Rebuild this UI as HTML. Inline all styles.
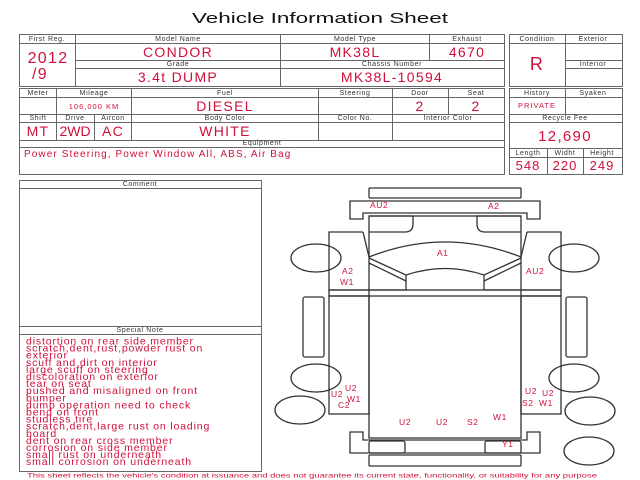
<!DOCTYPE html>
<html><head><meta charset="utf-8"><style>
html,body{margin:0;padding:0;background:#fff;width:640px;height:480px;overflow:hidden}
svg{display:block}
.l{font-family:"Liberation Sans",sans-serif;font-size:7px;fill:#333;text-anchor:middle;letter-spacing:0.6px}
.v{font-family:"Liberation Sans",sans-serif;font-size:14px;fill:#d0103a;text-anchor:middle;letter-spacing:1.3px}
.s{font-family:"Liberation Sans",sans-serif;font-size:10.5px;fill:#d0103a;letter-spacing:0.85px}
.d{font-family:"Liberation Sans",sans-serif;font-size:8.5px;fill:#d0103a;letter-spacing:0.6px}
</style></head><body>
<svg width="640" height="480" viewBox="0 0 640 480" xmlns="http://www.w3.org/2000/svg">
<text x="192" y="23" font-family="Liberation Sans,sans-serif" font-size="15" textLength="256" lengthAdjust="spacingAndGlyphs" fill="#111">Vehicle Information Sheet</text>
<g fill="none" stroke="#666" stroke-width="1">
<rect x="19.5" y="34.5" width="485" height="52"/>
<line x1="75.5" y1="34" x2="75.5" y2="86"/>
<line x1="280.5" y1="34" x2="280.5" y2="60"/>
<line x1="429.5" y1="34" x2="429.5" y2="60"/>
<line x1="75" y1="43.5" x2="504" y2="43.5"/>
<line x1="75" y1="60.5" x2="504" y2="60.5"/>
<line x1="75" y1="68.5" x2="504" y2="68.5"/>
<line x1="280.5" y1="60" x2="280.5" y2="86"/>
<line x1="19" y1="43.5" x2="75" y2="43.5"/>
<rect x="509.5" y="34.5" width="113" height="52"/>
<line x1="565.5" y1="34" x2="565.5" y2="86"/>
<line x1="509" y1="43.5" x2="622" y2="43.5"/>
<line x1="565" y1="60.5" x2="622" y2="60.5"/>
<line x1="565" y1="68.5" x2="622" y2="68.5"/>
<rect x="19.5" y="88.5" width="485" height="86"/>
<line x1="19" y1="97.5" x2="504" y2="97.5"/>
<line x1="19" y1="114.5" x2="504" y2="114.5"/>
<line x1="19" y1="122.5" x2="504" y2="122.5"/>
<line x1="19" y1="140.5" x2="504" y2="140.5"/>
<line x1="19" y1="147.5" x2="504" y2="147.5"/>
<line x1="56.5" y1="88" x2="56.5" y2="140"/>
<line x1="131.5" y1="88" x2="131.5" y2="140"/>
<line x1="318.5" y1="88" x2="318.5" y2="140"/>
<line x1="392.5" y1="88" x2="392.5" y2="140"/>
<line x1="448.5" y1="88" x2="448.5" y2="114"/>
<line x1="94.5" y1="114" x2="94.5" y2="140"/>
<rect x="509.5" y="88.5" width="113" height="86"/>
<line x1="509" y1="97.5" x2="622" y2="97.5"/>
<line x1="509" y1="114.5" x2="622" y2="114.5"/>
<line x1="509" y1="122.5" x2="622" y2="122.5"/>
<line x1="565.5" y1="88" x2="565.5" y2="114"/>
<line x1="509" y1="148.5" x2="622" y2="148.5"/>
<line x1="509" y1="157.5" x2="622" y2="157.5"/>
<line x1="547.5" y1="148" x2="547.5" y2="174"/>
<line x1="583.5" y1="148" x2="583.5" y2="174"/>
<rect x="19.5" y="180.5" width="242" height="291"/>
<line x1="19" y1="188.5" x2="262" y2="188.5"/>
<line x1="19" y1="326.5" x2="262" y2="326.5"/>
<line x1="19" y1="334.5" x2="262" y2="334.5"/>
</g>
<text class="l" x="47" y="41">First Reg.</text>
<text class="l" x="178" y="41">Model Name</text>
<text class="l" x="355" y="41">Model Type</text>
<text class="l" x="467" y="41">Exhaust</text>
<text class="l" x="178" y="66">Grade</text>
<text class="l" x="392" y="66">Chassis Number</text>
<text class="l" x="537" y="41">Condition</text>
<text class="l" x="593" y="41">Exterior</text>
<text class="l" x="593" y="66">Interior</text>
<text class="v" x="48" y="63" style="font-size:16px">2012</text>
<text class="v" x="40" y="79" style="font-size:16px">/9</text>
<text class="v" x="178" y="57">CONDOR</text>
<text class="v" x="355" y="57">MK38L</text>
<text class="v" x="467" y="57">4670</text>
<text class="v" x="178" y="82">3.4t DUMP</text>
<text class="v" x="392" y="82">MK38L-10594</text>
<text class="v" x="537" y="70" style="font-size:18px">R</text>

<text class="l" x="38" y="95">Meter</text>
<text class="l" x="94" y="95">Mileage</text>
<text class="l" x="225" y="95">Fuel</text>
<text class="l" x="355" y="95">Steering</text>
<text class="l" x="420" y="95">Door</text>
<text class="l" x="476" y="95">Seat</text>
<text class="v" x="94" y="109" style="font-size:7.5px;letter-spacing:1px">106,000 KM</text>
<text class="v" x="225" y="111">DIESEL</text>
<text class="v" x="420" y="111">2</text>
<text class="v" x="476" y="111">2</text>
<text class="l" x="38" y="120">Shift</text>
<text class="l" x="75" y="120">Drive</text>
<text class="l" x="113" y="120">Aircon</text>
<text class="l" x="225" y="120">Body Color</text>
<text class="l" x="355" y="120">Color No.</text>
<text class="l" x="448" y="120">Interior Color</text>
<text class="v" x="38" y="136">MT</text>
<text class="v" x="75" y="136" style="letter-spacing:0px">2WD</text>
<text class="v" x="113" y="136">AC</text>
<text class="v" x="225" y="136">WHITE</text>
<text class="l" x="262" y="145">Equipment</text>
<text class="s" x="24" y="157" style="letter-spacing:1.1px;font-size:10px">Power Steering, Power Window  All, ABS, Air Bag</text>

<text class="l" x="537" y="95">History</text>
<text class="l" x="593" y="95">Syaken</text>
<text class="v" x="537" y="108" style="font-size:7.5px;letter-spacing:1px">PRIVATE</text>
<text class="l" x="565" y="120">Recycle Fee</text>
<text class="v" x="565" y="141" style="font-size:15px">12,690</text>
<text class="l" x="528" y="155">Length</text>
<text class="l" x="565" y="155">Widht</text>
<text class="l" x="602" y="155">Height</text>
<text class="v" x="528" y="170" style="font-size:13px;letter-spacing:1px">548</text>
<text class="v" x="565" y="170" style="font-size:13px;letter-spacing:1px">220</text>
<text class="v" x="602" y="170" style="font-size:13px;letter-spacing:1px">249</text>

<text class="l" x="140" y="186">Comment</text>
<text class="l" x="140" y="332">Special Note</text>
<text class="s" x="26" y="344.5">distortion on rear side member</text>
<text class="s" x="26" y="351.6">scratch,dent,rust,powder rust on</text>
<text class="s" x="26" y="358.7">exterior</text>
<text class="s" x="26" y="365.8">scuff and dirt on interior</text>
<text class="s" x="26" y="372.9">large scuff on steering</text>
<text class="s" x="26" y="380">discoloration on exterior</text>
<text class="s" x="26" y="387.1">tear on seat</text>
<text class="s" x="26" y="394.2">pushed and misaligned on front</text>
<text class="s" x="26" y="401.3">bumper</text>
<text class="s" x="26" y="408.4">dump operation need to check</text>
<text class="s" x="26" y="415.5">bend on front</text>
<text class="s" x="26" y="422.6">studless tire</text>
<text class="s" x="26" y="429.7">scratch,dent,large rust on loading</text>
<text class="s" x="26" y="436.8">board</text>
<text class="s" x="26" y="443.9">dent on rear cross member</text>
<text class="s" x="26" y="451">corrosion on side member</text>
<text class="s" x="26" y="458.1">small rust on underneath</text>
<text class="s" x="26" y="465.2">small corrosion on underneath</text>
<text x="27" y="477.5" font-family="Liberation Sans,sans-serif" font-size="6.5" fill="#d0103a" textLength="570" lengthAdjust="spacingAndGlyphs">This sheet reflects the vehicle's condition at issuance and does not guarantee its current state, functionality, or suitability for any purpose</text>

<g fill="none" stroke="#333" stroke-width="1.3">
<rect x="369" y="188" width="152" height="10" rx="1"/>
<polygon points="350,201 540,201 540,219 527,219 527,213 363,213 363,219 350,219"/>
<rect x="369" y="216" width="152" height="222"/>
<path d="M369,216 H413 V224 Q413,232 405,232 H369"/>
<path d="M521,216 H477 V224 Q477,232 485,232 H521"/>
<path d="M363,232 L329,232 L329,290 L369,290 M363,232 L369,257"/>
<path d="M527,232 L561,232 L561,290 L521,290 M527,232 L521,257"/>
<path d="M369,257 Q445,227 521,257"/>
<path d="M406,275 Q445,262 484,275"/>
<path d="M369,258 L406,275 L406,290 L369,290"/>
<path d="M369,263 L406,281"/>
<path d="M521,258 L484,275 L484,290 L521,290"/>
<path d="M521,263 L484,281"/>
<rect x="329" y="290" width="232" height="6"/>
<rect x="329" y="296" width="40" height="118"/>
<rect x="521" y="296" width="40" height="118"/>
<rect x="303" y="297" width="21" height="60" rx="2"/>
<rect x="566" y="297" width="21" height="60" rx="2"/>
<ellipse cx="316" cy="258" rx="25" ry="14"/>
<ellipse cx="574" cy="258" rx="25" ry="14"/>
<ellipse cx="316" cy="378" rx="25" ry="14"/>
<ellipse cx="574" cy="378" rx="25" ry="14"/>
<ellipse cx="300" cy="410" rx="25" ry="14"/>
<ellipse cx="590" cy="411" rx="25" ry="14"/>
<ellipse cx="589" cy="451" rx="25" ry="14"/>
<polygon points="350,432 363,432 363,440 527,440 527,432 540,432 540,453 350,453"/>
<rect x="369" y="441" width="36" height="12" rx="2"/>
<rect x="485" y="441" width="36" height="12" rx="2"/>
<rect x="369" y="455" width="152" height="11" rx="1"/>
</g>
<text class="d" x="370" y="208">AU2</text>
<text class="d" x="488" y="209">A2</text>
<text class="d" x="437" y="256">A1</text>
<text class="d" x="342" y="274">A2</text>
<text class="d" x="340" y="285">W1</text>
<text class="d" x="526" y="274">AU2</text>
<text class="d" x="345" y="391">U2</text>
<text class="d" x="331" y="397">U2</text>
<text class="d" x="347" y="402">W1</text>
<text class="d" x="338" y="408">C2</text>
<text class="d" x="525" y="394">U2</text>
<text class="d" x="542" y="396">U2</text>
<text class="d" x="522" y="406">S2</text>
<text class="d" x="539" y="406">W1</text>
<text class="d" x="399" y="425">U2</text>
<text class="d" x="436" y="425">U2</text>
<text class="d" x="467" y="425">S2</text>
<text class="d" x="493" y="420">W1</text>
<text class="d" x="502" y="447">Y1</text>
</svg>
</body></html>
